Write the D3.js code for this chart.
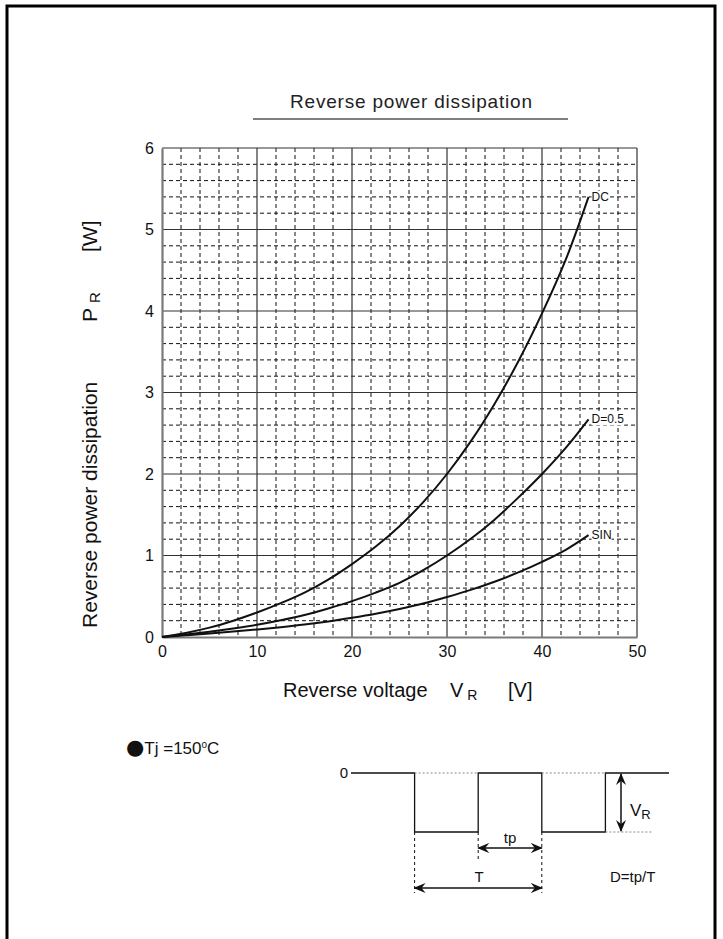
<!doctype html>
<html lang="en">
<head>
  <meta charset="utf-8">
  <title>Reverse power dissipation</title>
  <script src="https://d3js.org/d3.v7.min.js"></script>
  <style>
    body { margin: 0; background: #fff; }
    svg { display: block; font-family: "Liberation Sans", Arial, sans-serif; }
    .minor { stroke: #111; stroke-width: 1; stroke-dasharray: 4,3; }
    .major { stroke: #333; stroke-width: 1.2; }
    .curve { fill: none; stroke: #111; stroke-width: 2; }
  </style>
</head>
<body>
<svg id="chart" width="723" height="939"></svg>
<script>
  // reverse voltage [V] where the curves were read
  var voltage = [0, 2.5, 5, 7.5, 10, 12.5, 15, 17.5, 20, 22.5, 25, 27.5, 30, 32.5, 35, 37.5, 40, 42.5, 44.9];
  // reverse power dissipation [W]
  var dcValues  = [0, 0.05, 0.115, 0.2, 0.30, 0.415, 0.545, 0.705, 0.895, 1.11, 1.36, 1.655, 2.0, 2.4, 2.86, 3.38, 3.97, 4.63, 5.4];
  var d05Values = [0, 0.03, 0.065, 0.105, 0.15, 0.205, 0.27, 0.35, 0.44, 0.545, 0.665, 0.82, 1.0, 1.205, 1.44, 1.71, 2.0, 2.32, 2.67];
  var sinValues = [0, 0.02, 0.042, 0.066, 0.092, 0.12, 0.152, 0.19, 0.235, 0.285, 0.343, 0.41, 0.49, 0.578, 0.678, 0.792, 0.922, 1.07, 1.25];
  var seriesNames = ["DC", "D=0.5", "SIN"];

  var xTicks = [0, 10, 20, 30, 40, 50];
  var yTicks = [0, 1, 2, 3, 4, 5, 6];

  // pulse diagram: edges of the square wave in time units, levels 0 / -VR
  var waveEdges = [1, 2, 3, 4];

  var svg = d3.select("#chart");

  // page frame
  svg.append("path")
    .attr("d", "M7,939 V6 H715 V939")
    .attr("fill", "none")
    .attr("stroke", "#000")
    .attr("stroke-width", 3);

  // title
  svg.append("text")
    .attr("x", 411).attr("y", 108)
    .attr("text-anchor", "middle")
    .attr("textLength", 242)
    .attr("fill", "#222")
    .style("font-size", "19px")
    .text("Reverse power dissipation");
  svg.append("line")
    .attr("x1", 253).attr("x2", 568).attr("y1", 119).attr("y2", 119)
    .attr("stroke", "#555").attr("stroke-width", 1.5);

  var x = d3.scaleLinear().domain([0, 50]).range([162, 637]);
  var y = d3.scaleLinear().domain([0, 6]).range([637, 148]);

  var grid = svg.append("g");

  // minor grid (dashed)
  var minorX = d3.range(2, 50, 2).filter(function(v) { return v % 10 != 0; });
  var minorY = d3.range(1, 30).filter(function(i) { return i % 5 != 0; }).map(function(i) { return i / 5; });

  grid.selectAll(".mx").data(minorX).enter().append("line")
    .attr("class", "minor")
    .attr("x1", function(d) { return x(d); }).attr("x2", function(d) { return x(d); })
    .attr("y1", y(6)).attr("y2", y(0));
  grid.selectAll(".my").data(minorY).enter().append("line")
    .attr("class", "minor")
    .attr("x1", x(0)).attr("x2", x(50))
    .attr("y1", function(d) { return y(d); }).attr("y2", function(d) { return y(d); });

  // major grid (solid)
  grid.selectAll(".Mx").data(xTicks.slice(1)).enter().append("line")
    .attr("class", "major")
    .attr("x1", function(d) { return x(d); }).attr("x2", function(d) { return x(d); })
    .attr("y1", y(6)).attr("y2", y(0));
  grid.selectAll(".My").data(yTicks.slice(1)).enter().append("line")
    .attr("class", "major")
    .attr("x1", x(0)).attr("x2", x(50))
    .attr("y1", function(d) { return y(d); }).attr("y2", function(d) { return y(d); });

  // axes
  var xAxis = svg.append("g")
    .attr("transform", "translate(0," + y(0) + ")")
    .call(d3.axisBottom(x).tickValues(xTicks).tickFormat(d3.format("d")).tickSize(0).tickPadding(9));
  var yAxis = svg.append("g")
    .attr("transform", "translate(" + x(0) + ",0)")
    .call(d3.axisLeft(y).tickValues(yTicks).tickFormat(d3.format("d")).tickSize(0).tickPadding(8));

  [xAxis, yAxis].forEach(function(a) {
    a.select(".domain").attr("stroke", "#7a7a7a").attr("stroke-width", 2.2);
    a.selectAll("text")
      .style("font-size", "16px")
      .style("font-family", "Liberation Sans, Arial, sans-serif")
      .attr("fill", "#111");
  });

  // curves
  var line = d3.line()
    .x(function(d) { return x(d[0]); })
    .y(function(d) { return y(d[1]); })
    .curve(d3.curveCatmullRom.alpha(0.5));

  var series = [dcValues, d05Values, sinValues];
  series.forEach(function(vals, i) {
    var pts = voltage.map(function(v, j) { return [v, vals[j]]; });
    svg.append("path").datum(pts).attr("class", "curve").attr("d", line);
    var last = pts[pts.length - 1];
    var lbl = svg.append("text")
      .attr("x", x(last[0]) + 3)
      .attr("y", y(last[1]) + 4)
      .style("font-size", "12px")
      .attr("fill", "#111")
      .text(seriesNames[i]);
    var bb = lbl.node().getBBox();
    svg.insert("rect", function() { return lbl.node(); })
      .attr("x", bb.x).attr("y", bb.y + 1)
      .attr("width", bb.width).attr("height", bb.height - 2)
      .attr("fill", "#fff");
  });

  // axis titles
  var xt = svg.append("text")
    .attr("x", 283).attr("y", 697)
    .style("font-size", "20px")
    .attr("fill", "#111");
  xt.append("tspan").text("Reverse voltage");
  xt.append("tspan").attr("x", 450).text("V");
  xt.append("tspan").attr("dy", 3).attr("dx", 4).style("font-size", "14px").text("R");
  xt.append("tspan").attr("x", 508).attr("dy", -3).text("[V]");

  var yt = svg.append("text")
    .attr("transform", "translate(97,628) rotate(-90)")
    .style("font-size", "21px")
    .attr("fill", "#111");
  yt.append("tspan").attr("x", 0).text("Reverse power dissipation");
  yt.append("tspan").attr("x", 306).text("P");
  yt.append("tspan").attr("dy", 3).attr("dx", 5).style("font-size", "15px").text("R");
  yt.append("tspan").attr("x", 376).attr("dy", -3).text("[W]");

  // condition
  var cond = svg.append("text")
    .attr("x", 126).attr("y", 754)
    .style("font-size", "17px")
    .attr("fill", "#111");
  cond.append("tspan").style("font-size", "21px").style("font-family", "DejaVu Sans").text("\u25CF");
  cond.append("tspan").text("Tj =150");
  cond.append("tspan").attr("dy", -6).style("font-size", "10px").text("o");
  cond.append("tspan").attr("dy", 6).text("C");

  // pulse diagram
  var t = d3.scaleLinear().domain([0, 5]).range([351, 669]);
  var lv = d3.scaleLinear().domain([-1, 0]).range([832, 773]);
  var wave = svg.append("g").attr("stroke", "#111").attr("fill", "none");

  var wavePts = [[0, 0]];
  waveEdges.forEach(function(e, i) {
    var from = i % 2 == 0 ? 0 : -1;
    var to = i % 2 == 0 ? -1 : 0;
    wavePts.push([e, from], [e, to]);
  });
  wavePts.push([5, 0]);
  wave.append("path")
    .attr("d", d3.line().x(function(d) { return t(d[0]); }).y(function(d) { return lv(d[1]); })(wavePts))
    .attr("stroke-width", 1.3);

  // dotted reference levels
  var dots = wave.append("g").attr("stroke", "#888").attr("stroke-dasharray", "2,2").attr("stroke-width", 1);
  [[waveEdges[0], waveEdges[1], 0], [waveEdges[2], waveEdges[3], 0], [waveEdges[3], 4.75, -1]].forEach(function(s) {
    dots.append("line")
      .attr("x1", t(s[0])).attr("x2", t(s[1]))
      .attr("y1", lv(s[2])).attr("y2", lv(s[2]));
  });
  var dash = wave.append("g").attr("stroke-dasharray", "3,3").attr("stroke-width", 1);
  [[waveEdges[0], 893], [waveEdges[1], 862], [waveEdges[2], 893]].forEach(function(s) {
    dash.append("line")
      .attr("x1", t(s[0])).attr("x2", t(s[0]))
      .attr("y1", lv(-1)).attr("y2", s[1]);
  });

  // arrowheads
  var defs = svg.append("defs");
  defs.append("marker")
    .attr("id", "arr")
    .attr("viewBox", "0 0 12 10")
    .attr("refX", 11).attr("refY", 5)
    .attr("markerWidth", 12).attr("markerHeight", 10)
    .attr("markerUnits", "userSpaceOnUse")
    .attr("orient", "auto-start-reverse")
    .append("path")
    .attr("d", "M0,0 L12,5 L0,10 L4,5 Z")
    .attr("fill", "#111");

  function arrow(x1, y1, x2, y2) {
    svg.append("line")
      .attr("x1", x1).attr("y1", y1).attr("x2", x2).attr("y2", y2)
      .attr("stroke", "#111").attr("stroke-width", 1.5)
      .attr("marker-start", "url(#arr)").attr("marker-end", "url(#arr)");
  }
  arrow(t(waveEdges[1]), 848, t(waveEdges[2]), 848);   // tp
  arrow(t(waveEdges[0]), 888, t(waveEdges[2]), 888);   // T
  arrow(621, lv(0) + 1, 621, lv(-1) - 1);              // VR

  var lab = svg.append("g").style("font-size", "15px").attr("fill", "#111");
  lab.append("text").attr("x", 348).attr("y", 778).attr("text-anchor", "end").text("0");
  lab.append("text").attr("x", 510).attr("y", 843).attr("text-anchor", "middle").text("tp");
  lab.append("text").attr("x", 479).attr("y", 882).attr("text-anchor", "middle").text("T");
  var vr = lab.append("text").attr("x", 630).attr("y", 816).style("font-size", "17px");
  vr.append("tspan").text("V");
  vr.append("tspan").attr("dy", 3).style("font-size", "13px").text("R");
  lab.append("text").attr("x", 610).attr("y", 882).text("D=tp/T");
</script>
</body>
</html>
